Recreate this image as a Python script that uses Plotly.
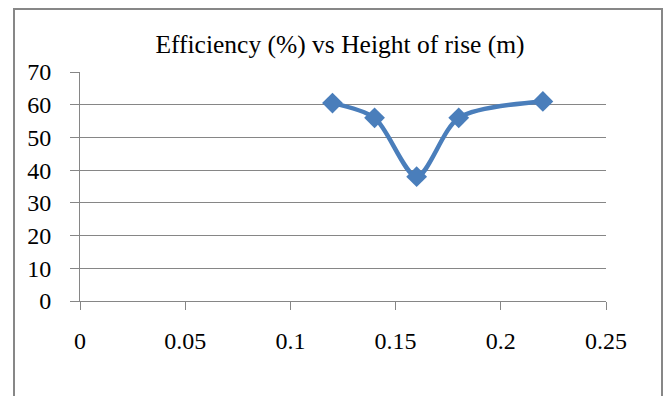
import plotly.graph_objects as go

height_of_rise = [0.12, 0.14, 0.16, 0.18, 0.22]
efficiency = [60.5, 56, 38, 56, 61]
x_ticks = [0, 0.05, 0.1, 0.15, 0.2, 0.25]
x_tick_labels = ["0", "0.05", "0.1", "0.15", "0.2", "0.25"]
y_ticks = [0, 10, 20, 30, 40, 50, 60, 70]

fig = go.Figure()
fig.add_trace(go.Scatter(
    x=height_of_rise, y=efficiency, mode="lines+markers",
    line=dict(color="#4A7EBB", width=4.5, shape="spline", smoothing=0.8),
    marker=dict(symbol="diamond", size=16, color="#4A7EBB"),
    showlegend=False,
))

font = "Liberation Serif, Times New Roman, serif"
fig.update_layout(
    width=672, height=396,
    margin=dict(l=80, r=66, t=72, b=95),
    paper_bgcolor="white", plot_bgcolor="white",
    font=dict(family=font, size=24, color="black"),
    title=dict(text="Efficiency (%) vs Height of rise (m)", x=340/672, xanchor="center",
               y=1-44/396, yanchor="middle", font=dict(family=font, size=25.5, color="black")),
    xaxis=dict(range=[0, 0.25], tickvals=x_ticks, ticktext=x_tick_labels,
               showgrid=False, zeroline=False, showline=True, linecolor="#868686", linewidth=1,
               ticks="outside", ticklen=8, tickcolor="#868686", ticklabelstandoff=10),
    yaxis=dict(range=[0, 70], tickvals=y_ticks, showgrid=True, gridcolor="#868686", gridwidth=1,
               zeroline=False, showline=True, linecolor="#868686", linewidth=1,
               ticks="outside", ticklen=9, tickcolor="#868686", ticklabelstandoff=14),
    shapes=[dict(type="rect", xref="paper", yref="paper",
                 x0=(14-80)/526, x1=(662-80)/526, y0=-0.6, y1=(301-9)/229,
                 line=dict(color="#878787", width=2), fillcolor="rgba(0,0,0,0)", layer="below")],
)
fig.write_html("out.html")
